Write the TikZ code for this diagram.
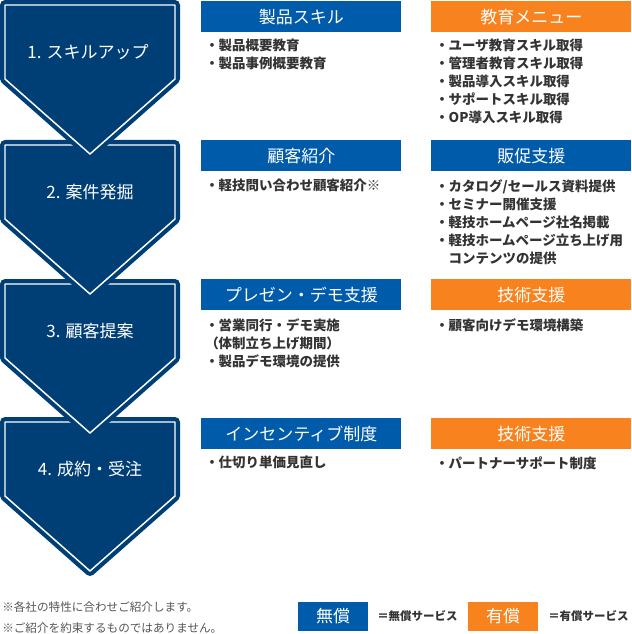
\documentclass[tikz,border=0pt]{standalone}
\usepackage{fontspec}
\setmainfont{Noto Sans CJK JP}
\definecolor{stagenavy}{RGB}{0,63,117}
\definecolor{freeblue}{RGB}{0,91,171}
\definecolor{paidorange}{RGB}{248,130,30}
\definecolor{itemgray}{RGB}{51,51,51}
\definecolor{notegray}{RGB}{85,85,85}

\begin{document}
\begin{tikzpicture}[x=0.75pt,y=0.75pt,yscale=-1,xscale=1,
    stage/.style={fill=stagenavy, draw=white, line width=1.1pt, line join=round,
        preaction={draw=stagenavy, line width=7.5pt, line join=round}},
    stagelabel/.style={inner sep=0pt, text=white, font=\fontsize{12.75}{15}\selectfont},
    head/.style={anchor=north west, minimum width=150pt, minimum height=23.25pt, inner sep=0pt,
        text=white, font=\fontsize{12.75}{15}\selectfont},
    freehead/.style={head, fill=freeblue},
    paidhead/.style={head, fill=paidorange},
    items/.style={anchor=north west, align=left, inner sep=0pt, text=itemgray,
        font=\bfseries\fontsize{10.1}{13.5}\selectfont},
    note/.style={anchor=base west, inner sep=0pt, text=notegray, font=\fontsize{8.7}{10}\selectfont},
    keybox/.style={minimum width=52.5pt, minimum height=21.75pt, inner sep=0pt, text=white,
        font=\fontsize{12.75}{15}\selectfont},
    keytext/.style={anchor=west, inner sep=0pt, text=itemgray, font=\bfseries\fontsize{8.6}{10}\selectfont}
  ]
    \useasboundingbox (0,0) rectangle (631,634);

    %Shape: Chevron 4 (drawn first, the upper tips lie over it)
    \draw [stage, shift={(0,417)}] (5,5) -- (175,5) -- (175,79) -- (90,154) -- (5,79) -- cycle ;
    %Shape: Chevron 3
    \draw [stage, shift={(0,279)}] (5,5) -- (175,5) -- (175,79) -- (90,154) -- (5,79) -- cycle ;
    %Shape: Chevron 2
    \draw [stage, shift={(0,140)}] (5,5) -- (175,5) -- (175,79) -- (90,154) -- (5,79) -- cycle ;
    %Shape: Chevron 1
    \draw [stage] (5,5) -- (175,5) -- (175,79) -- (90,154) -- (5,79) -- cycle ;

    % Text Node
    \node [stagelabel] (stage1) at (88,52) {1. スキルアップ};
    \node [stagelabel] (stage2) at (90,192) {2. 案件発掘};
    \node [stagelabel] (stage3) at (90,331) {3. 顧客提案};
    \node [stagelabel] (stage4) at (90,469) {4. 成約・受注};

    % Row 1
    \node [freehead] (skillhead) at (201,1) {製品スキル};
    \node [paidhead] (eduhead) at (431,1) {教育メニュー};
    \node [items] (skillitems) at (205,39) {・製品概要教育\\・製品事例概要教育};
    \node [items] (eduitems) at (435,39) {・ユーザ教育スキル取得\\・管理者教育スキル取得\\・製品導入スキル取得\\・サポートスキル取得\\・OP導入スキル取得};

    % Row 2
    \node [freehead] (introhead) at (201,140) {顧客紹介};
    \node [freehead] (salehead) at (431,140) {販促支援};
    \node [items] (introitems) at (205,179) {・軽技問い合わせ顧客紹介※};
    \node [items] (saleitems) at (435,179) {・カタログ/セールス資料提供\\・セミナー開催支援\\・軽技ホームページ社名掲載\\・軽技ホームページ立ち上げ用\\　コンテンツの提供};

    % Row 3
    \node [freehead] (demohead) at (201,279) {プレゼン・デモ支援};
    \node [paidhead] (techhead) at (431,279) {技術支援};
    \node [items] (demoitems) at (205,318) {・営業同行・デモ実施\\（体制立ち上げ期間）\\・製品デモ環境の提供};
    \node [items] (techitems) at (435,318) {・顧客向けデモ環境構築};

    % Row 4
    \node [freehead] (rewardhead) at (201,418) {インセンティブ制度};
    \node [paidhead] (supporthead) at (431,418) {技術支援};
    \node [items] (rewarditems) at (205,456) {・仕切り単価見直し};
    \node [items] (supportitems) at (435,456) {・パートナーサポート制度};

    % Notes
    \node [note] (note1) at (2,611) {※各社の特性に合わせご紹介します。};
    \node [note] (note2) at (2,632) {※ご紹介を約束するものではありません。};

    % Legend
    \node [keybox, fill=freeblue] (freekey) at (333,616.5) {無償};
    \node [keytext] (freetext) at (377,616.5) {＝無償サービス};
    \node [keybox, fill=paidorange] (paidkey) at (503,616.5) {有償};
    \node [keytext] (paidtext) at (548,616.5) {＝有償サービス};
\end{tikzpicture}
\end{document}
